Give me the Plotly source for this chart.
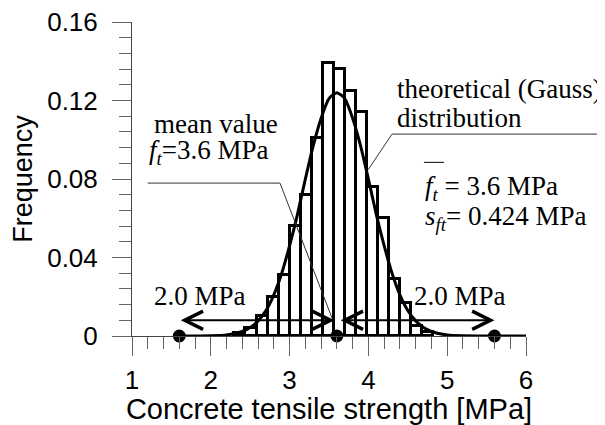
import plotly.graph_objects as go

# ---- data ----
bin_centers = [2.37, 2.51, 2.65, 2.79, 2.93, 3.07, 3.21, 3.35, 3.49, 3.63,
               3.77, 3.91, 4.05, 4.19, 4.33, 4.47, 4.61, 4.75]
frequency = [0.0015, 0.004, 0.010, 0.020, 0.031, 0.056, 0.072, 0.101, 0.139, 0.136,
             0.125, 0.114, 0.076, 0.060, 0.029, 0.017, 0.005, 0.002]
bin_width = 0.14

curve_x = [1.6, 2.0, 2.2, 2.4, 2.5, 2.6, 2.7, 2.8, 2.9, 3.0, 3.1, 3.2, 3.3, 3.4, 3.5,
           3.6, 3.7, 3.8, 3.9, 4.0, 4.1, 4.2, 4.3, 4.4, 4.5, 4.6, 4.7, 4.8, 5.0, 5.2,
           5.6, 6.0]
curve_y = [0.0, 0.0001, 0.0005, 0.0023, 0.0043, 0.0077, 0.013, 0.021, 0.032, 0.046,
           0.062, 0.080, 0.097, 0.111, 0.121, 0.124, 0.121, 0.111, 0.097, 0.080,
           0.062, 0.046, 0.032, 0.021, 0.013, 0.0077, 0.0043, 0.0023, 0.0005, 0.0001,
           0.0, 0.0]

mean_value = 3.6
half_range = 2.0
arrow_level = 0.008
dot_x = [mean_value - half_range, mean_value, mean_value + half_range]
dot_y = [0, 0, 0]

x_ticks = [1, 2, 3, 4, 5, 6]
y_ticks = [0, 0.04, 0.08, 0.12, 0.16]
y_ticktext = ["0", "0.04", "0.08", "0.12", "0.16"]

SANS = "Liberation Sans, Arial, sans-serif"
SERIF = "Liberation Serif, Times New Roman, serif"

fig = go.Figure()

fig.add_trace(go.Bar(
    x=bin_centers, y=frequency, width=bin_width,
    marker=dict(color="rgba(0,0,0,0)", line=dict(color="black", width=3)),
    showlegend=False, hoverinfo="skip"))

fig.add_trace(go.Scatter(
    x=curve_x, y=curve_y, mode="lines",
    line=dict(color="black", width=3, shape="spline", smoothing=0.6),
    showlegend=False, hoverinfo="skip"))

fig.add_trace(go.Scatter(
    x=dot_x, y=dot_y, mode="markers",
    marker=dict(color="black", size=13),
    cliponaxis=False, showlegend=False, hoverinfo="skip"))

gap = 0.03
arrows = [
    (mean_value - half_range, mean_value - gap),
    (mean_value + gap, mean_value + half_range),
]
annotations = []
for a, b in arrows:
    annotations.append(dict(
        x=b, y=arrow_level, ax=a, ay=arrow_level, xref="x", yref="y",
        axref="x", ayref="y", text="", showarrow=True, arrowhead=5,
        startarrowhead=5, arrowside="end+start", arrowwidth=2, arrowsize=1.8,
        startarrowsize=1.8, arrowcolor="black"))

def label(x, y, text, anchor="left", size=27):
    annotations.append(dict(
        x=x, y=y, xref="x", yref="y", text=text, showarrow=False,
        xanchor=anchor, yanchor="middle",
        font=dict(family=SERIF, size=size, color="black")))

label(4.34, 0.1259, "theoretical (Gauss)")
label(4.34, 0.1111, "distribution")
label(1.254, 0.1078, "mean value")
label(1.19, 0.0940, "<i>f</i><sub><i>t</i></sub>=3.6 MPa")
label(4.69, 0.0755, "<i>f</i><sub><i>t</i></sub> = 3.6 MPa")
label(4.69, 0.0600, "<i>s</i><sub><i>ft</i></sub>= 0.424 MPa")
label(1.863, 0.0204, "2.0 MPa", anchor="center")
label(5.162, 0.0204, "2.0 MPa", anchor="center")

shapes = [
    # leader from "mean value" text to the mean
    dict(type="path", xref="paper", yref="paper",
         path="M 0.04 0.487 L 0.3756 0.487 L 0.5076 0.0573",
         line=dict(color="#333", width=1)),
    # leader from "theoretical distribution" to the curve
    dict(type="path", xref="paper", yref="paper",
         path="M 1.2 0.643 L 0.660 0.643 L 0.599 0.529",
         line=dict(color="#333", width=1)),
    # overline of mean symbol
    dict(type="line", xref="paper", yref="paper",
         x0=0.741, x1=0.792, y0=0.553, y1=0.553,
         line=dict(color="black", width=1)),
]

axis_common = dict(
    showline=True, linecolor="#444", linewidth=1, ticks="outside",
    ticklen=19, tickcolor="#666", tickwidth=1, showgrid=False, zeroline=False,
    automargin=False, ticklabeloverflow="allow",
    tickfont=dict(family=SANS, size=26, color="black"),
)

fig.update_layout(
    width=597, height=417, autosize=False,
    margin=dict(l=124, r=79, t=14, b=89),
    paper_bgcolor="white", plot_bgcolor="white",
    bargap=0,
    xaxis=dict(range=[1, 6], tickvals=x_ticks, ticklabelstandoff=2,
               minor=dict(dtick=0.2, tick0=1, ticks="outside", ticklen=12,
                          tickcolor="#666", tickwidth=1),
               title=dict(text="Concrete tensile strength [MPa]", standoff=6,
                          font=dict(family=SANS, size=29, color="black")),
               **axis_common),
    yaxis=dict(range=[0, 0.16], tickvals=y_ticks, ticktext=y_ticktext,
               ticklabelstandoff=9,
               minor=dict(dtick=0.008, tick0=0, ticks="outside", ticklen=12,
                          tickcolor="#666", tickwidth=1),
               title=dict(text="Frequency", standoff=6,
                          font=dict(family=SANS, size=27, color="black")),
               **axis_common),
    annotations=annotations,
    shapes=shapes,
)

fig.write_html("out.html")
